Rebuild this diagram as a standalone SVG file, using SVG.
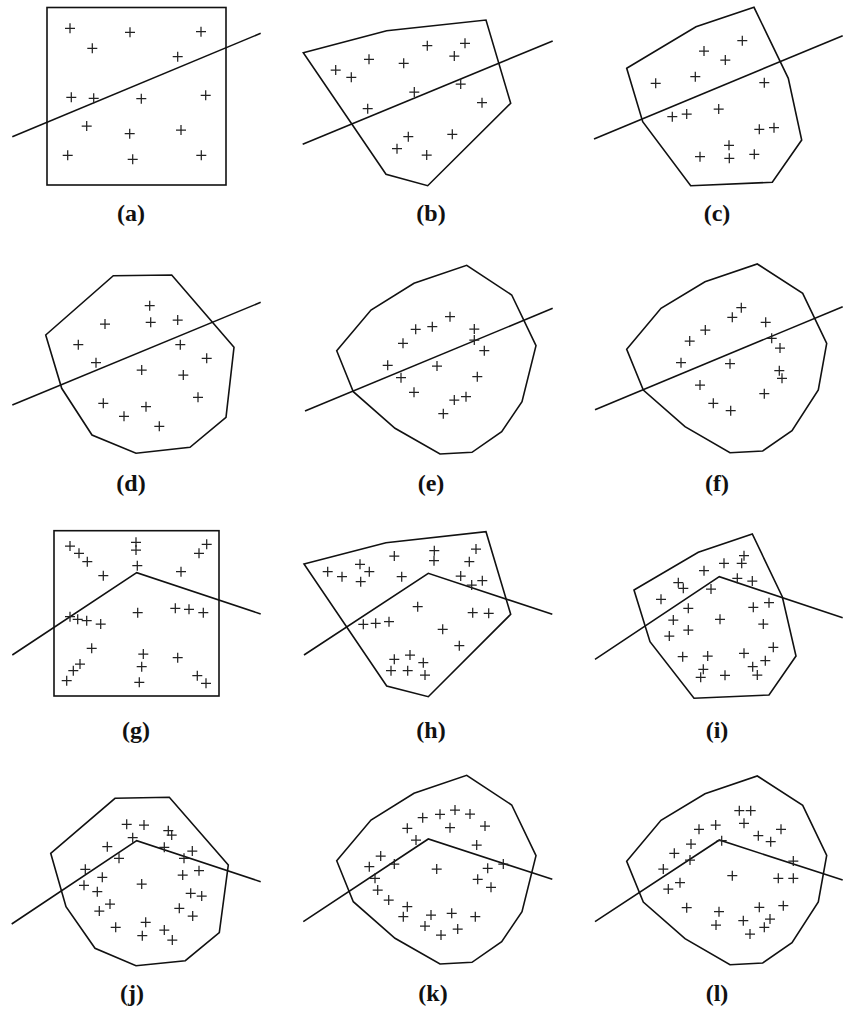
<svg xmlns="http://www.w3.org/2000/svg" xmlns:xlink="http://www.w3.org/1999/xlink" width="846" height="1011" viewBox="0 0 846 1011">
<style>
.s{fill:none;stroke:#111;stroke-width:1.6;stroke-linejoin:miter}
.l{fill:none;stroke:#111;stroke-width:1.6}
.lb{font-family:"Liberation Serif","Times New Roman",serif;font-weight:bold;font-size:24px;fill:#111;text-anchor:middle}
</style>
<defs>
<path id="p" d="M-5,0H5M0,-5V5" fill="none" stroke="#222" stroke-width="1.25"/>
</defs>
<rect width="846" height="1011" fill="#fff"/>

<g id="panel-a">
<rect class="s" x="47" y="7.5" width="179" height="177.5"/>
<line class="l" x1="12.3" y1="136.7" x2="260.7" y2="33.3"/>
<use href="#p" x="70" y="28.3"/><use href="#p" x="130" y="32.3"/><use href="#p" x="201" y="31.7"/><use href="#p" x="92.3" y="48.3"/><use href="#p" x="177.7" y="56.7"/><use href="#p" x="71.3" y="97.3"/><use href="#p" x="93.7" y="98.3"/><use href="#p" x="141.3" y="98.7"/><use href="#p" x="205.7" y="95.3"/><use href="#p" x="86.7" y="126"/><use href="#p" x="129.7" y="133.7"/><use href="#p" x="181" y="130"/><use href="#p" x="67.7" y="155.3"/><use href="#p" x="132.7" y="159.3"/><use href="#p" x="201.3" y="155.3"/>
<text class="lb" x="131" y="221">(a)</text>
</g>

<g id="panel-b">
<polygon class="s" points="303.3,52.7 386.7,30.7 486,20 510.7,103.3 427.7,185.7 386,174.3"/>
<line class="l" x1="302.7" y1="144.3" x2="552.7" y2="41"/>
<use href="#p" x="427.3" y="45.7"/><use href="#p" x="465" y="43.3"/><use href="#p" x="454.3" y="56"/><use href="#p" x="369" y="59.3"/><use href="#p" x="403.7" y="63.3"/><use href="#p" x="335.7" y="70"/><use href="#p" x="351.3" y="77.3"/><use href="#p" x="460.7" y="84"/><use href="#p" x="414.3" y="92"/><use href="#p" x="482" y="102.7"/><use href="#p" x="367.7" y="108.7"/><use href="#p" x="452.3" y="134.3"/><use href="#p" x="408.3" y="136.7"/><use href="#p" x="397" y="148.7"/><use href="#p" x="426.7" y="155"/>
<text class="lb" x="431" y="221">(b)</text>
</g>

<g id="panel-c">
<polygon class="s" points="626.7,68.3 696,26.7 754,7.3 788.3,78.3 801.7,140 772.3,182.3 690.7,185.7 642.7,121.7"/>
<line class="l" x1="594" y1="139" x2="842.7" y2="35.7"/>
<use href="#p" x="742.3" y="40.7"/><use href="#p" x="704" y="51"/><use href="#p" x="725.3" y="60"/><use href="#p" x="695.3" y="76.7"/><use href="#p" x="655.7" y="83.3"/><use href="#p" x="764.3" y="82.7"/><use href="#p" x="718.7" y="109"/><use href="#p" x="672.3" y="116.7"/><use href="#p" x="686.7" y="114"/><use href="#p" x="759.3" y="129.3"/><use href="#p" x="774" y="127.7"/><use href="#p" x="729" y="145.3"/><use href="#p" x="700" y="156.7"/><use href="#p" x="729.3" y="158.3"/><use href="#p" x="754.3" y="154.3"/>
<text class="lb" x="717" y="221">(c)</text>
</g>

<g id="panel-d">
<polygon class="s" points="45.7,335 113.3,275.7 171.7,275 234,347.3 226,417.3 190,447.3 136,453.3 92,435 61.7,388.3"/>
<line class="l" x1="12.3" y1="405" x2="260.7" y2="302.3"/>
<use href="#p" x="149.7" y="305.7"/><use href="#p" x="105" y="324"/><use href="#p" x="150.7" y="322.3"/><use href="#p" x="177.7" y="320"/><use href="#p" x="78.3" y="344.7"/><use href="#p" x="180.3" y="344.7"/><use href="#p" x="206.7" y="358.3"/><use href="#p" x="96" y="362.7"/><use href="#p" x="141.7" y="370"/><use href="#p" x="183.3" y="375"/><use href="#p" x="198" y="397.3"/><use href="#p" x="103.3" y="403.3"/><use href="#p" x="146" y="406.7"/><use href="#p" x="124" y="416.3"/><use href="#p" x="159.3" y="426.3"/>
<text class="lb" x="131" y="491">(d)</text>
</g>

<g id="panel-e">
<polygon class="s" points="336.7,350.7 371,310 414,283.3 466.7,265.3 511.7,295 536,345.7 522,401.7 501.7,431.7 472,452.3 440,454 395,428.3 353.3,391.7"/>
<line class="l" x1="305" y1="411" x2="552.7" y2="308.3"/>
<use href="#p" x="450" y="316.7"/><use href="#p" x="415.7" y="329.3"/><use href="#p" x="432.3" y="326.7"/><use href="#p" x="474.3" y="329"/><use href="#p" x="403" y="343.3"/><use href="#p" x="474.3" y="340"/><use href="#p" x="484.3" y="350.7"/><use href="#p" x="387.7" y="365.3"/><use href="#p" x="437" y="366"/><use href="#p" x="401" y="377.7"/><use href="#p" x="477.3" y="376.7"/><use href="#p" x="414" y="392.3"/><use href="#p" x="454.3" y="400"/><use href="#p" x="466" y="396.7"/><use href="#p" x="443.3" y="413.7"/>
<text class="lb" x="431" y="491">(e)</text>
</g>

<g id="panel-f">
<polygon class="s" points="626.7,349.3 661,308.3 705,281.7 757.3,264 802.7,293.3 826.7,343.3 818.3,390 792,430.7 762.7,451 730,452.7 685,426.7 643.3,390"/>
<line class="l" x1="595" y1="409.7" x2="842.7" y2="306.7"/>
<use href="#p" x="741.3" y="307.7"/><use href="#p" x="732.3" y="317.3"/><use href="#p" x="765.7" y="322.3"/><use href="#p" x="705.3" y="330"/><use href="#p" x="689.7" y="341"/><use href="#p" x="771.7" y="338.3"/><use href="#p" x="780" y="348"/><use href="#p" x="681" y="362.7"/><use href="#p" x="730" y="363.7"/><use href="#p" x="779.3" y="370.7"/><use href="#p" x="782" y="378.3"/><use href="#p" x="700" y="385"/><use href="#p" x="764.3" y="393.7"/><use href="#p" x="713.3" y="403.3"/><use href="#p" x="730.7" y="410.7"/>
<text class="lb" x="717" y="491">(f)</text>
</g>

<g id="panel-g">
<rect class="s" x="54" y="530.7" width="165" height="165.3"/>
<polyline class="l" points="12.3,655 136.7,572.7 260.7,614"/>
<use href="#p" x="70" y="546"/><use href="#p" x="79" y="553.3"/><use href="#p" x="87.3" y="561.7"/><use href="#p" x="136" y="542.3"/><use href="#p" x="136" y="550"/><use href="#p" x="206.7" y="544.3"/><use href="#p" x="199" y="553.3"/><use href="#p" x="137.3" y="565.7"/><use href="#p" x="103.3" y="575.7"/><use href="#p" x="181" y="571.7"/><use href="#p" x="70" y="616.7"/><use href="#p" x="77.7" y="619.3"/><use href="#p" x="86.7" y="620.7"/><use href="#p" x="100.7" y="624"/><use href="#p" x="137.7" y="612.7"/><use href="#p" x="175.3" y="608.3"/><use href="#p" x="189" y="609.3"/><use href="#p" x="203.3" y="612.7"/><use href="#p" x="91.7" y="648.3"/><use href="#p" x="143.3" y="654"/><use href="#p" x="177.7" y="657.7"/><use href="#p" x="80" y="664"/><use href="#p" x="73.3" y="670.7"/><use href="#p" x="141.7" y="666.7"/><use href="#p" x="66.7" y="680.7"/><use href="#p" x="139.3" y="682.3"/><use href="#p" x="197.3" y="675.7"/><use href="#p" x="206" y="683.3"/>
<text class="lb" x="136" y="738">(g)</text>
</g>

<g id="panel-h">
<polygon class="s" points="304,564 386,542.7 486,531.7 510.7,614.3 428.3,696.7 386.7,686"/>
<polyline class="l" points="304,655 428.3,573.3 552.3,614.3"/>
<use href="#p" x="476" y="549"/><use href="#p" x="394.3" y="556"/><use href="#p" x="434.3" y="550.7"/><use href="#p" x="434" y="560.7"/><use href="#p" x="469.3" y="561.7"/><use href="#p" x="360" y="564.3"/><use href="#p" x="327.7" y="571.7"/><use href="#p" x="342" y="576.7"/><use href="#p" x="369.3" y="571.7"/><use href="#p" x="360.7" y="581.7"/><use href="#p" x="401.7" y="576.7"/><use href="#p" x="460.7" y="576"/><use href="#p" x="471.7" y="585"/><use href="#p" x="482.3" y="580.7"/><use href="#p" x="417.7" y="606.7"/><use href="#p" x="472.7" y="612.7"/><use href="#p" x="488.7" y="613.3"/><use href="#p" x="363.3" y="624.3"/><use href="#p" x="375.7" y="623.3"/><use href="#p" x="389" y="621.7"/><use href="#p" x="442.7" y="629.3"/><use href="#p" x="459.3" y="645.7"/><use href="#p" x="394.3" y="659.3"/><use href="#p" x="410" y="655"/><use href="#p" x="423.3" y="662.7"/><use href="#p" x="391" y="670.7"/><use href="#p" x="407.7" y="670.7"/><use href="#p" x="425" y="675"/>
<text class="lb" x="431" y="738">(h)</text>
</g>

<g id="panel-i">
<polygon class="s" points="634,590 698.3,552.3 752.3,534 782.3,596.7 796,656 769,695 694,698.3 650,641.7"/>
<polyline class="l" points="595,659.3 719.3,576.7 842.7,617.7"/>
<use href="#p" x="744" y="555.7"/><use href="#p" x="741.7" y="563.3"/><use href="#p" x="724" y="563.3"/><use href="#p" x="704" y="570.7"/><use href="#p" x="737.3" y="578.3"/><use href="#p" x="752.3" y="581"/><use href="#p" x="678.3" y="582.7"/><use href="#p" x="683.3" y="588.3"/><use href="#p" x="711" y="589"/><use href="#p" x="661" y="599.3"/><use href="#p" x="769" y="602.7"/><use href="#p" x="753.3" y="607.3"/><use href="#p" x="688.3" y="608.3"/><use href="#p" x="673.3" y="620"/><use href="#p" x="720" y="619.3"/><use href="#p" x="763.3" y="624"/><use href="#p" x="688.3" y="630"/><use href="#p" x="669.3" y="636"/><use href="#p" x="773.3" y="647.3"/><use href="#p" x="744" y="653.3"/><use href="#p" x="682.7" y="656.7"/><use href="#p" x="707.7" y="656"/><use href="#p" x="765.3" y="660.7"/><use href="#p" x="752.7" y="666.7"/><use href="#p" x="703.3" y="669.3"/><use href="#p" x="700.7" y="677.3"/><use href="#p" x="725" y="675.3"/><use href="#p" x="757.3" y="675"/>
<text class="lb" x="717" y="738">(i)</text>
</g>

<g id="panel-j">
<polygon class="s" points="50.7,853.3 115,798.3 169.3,797.3 228.3,865 219.3,932.7 185.3,960.7 136,965.7 95,948.3 66,906.7"/>
<polyline class="l" points="11.7,924 136.7,840.7 260.7,881.7"/>
<use href="#p" x="126.7" y="824.3"/><use href="#p" x="144" y="825"/><use href="#p" x="168.3" y="830.7"/><use href="#p" x="171.7" y="835"/><use href="#p" x="132.7" y="837.7"/><use href="#p" x="164.3" y="847.3"/><use href="#p" x="107.3" y="846.7"/><use href="#p" x="192.3" y="851"/><use href="#p" x="184" y="858.3"/><use href="#p" x="119" y="858.3"/><use href="#p" x="85.3" y="869.3"/><use href="#p" x="199" y="870.7"/><use href="#p" x="182.7" y="875"/><use href="#p" x="102.3" y="877.3"/><use href="#p" x="141.7" y="884"/><use href="#p" x="84" y="885.3"/><use href="#p" x="97.3" y="891.7"/><use href="#p" x="190.7" y="893.3"/><use href="#p" x="201.7" y="896"/><use href="#p" x="110" y="904"/><use href="#p" x="99.3" y="911"/><use href="#p" x="179.3" y="908.3"/><use href="#p" x="192.7" y="916"/><use href="#p" x="115.7" y="927.3"/><use href="#p" x="145.7" y="922.3"/><use href="#p" x="164.3" y="930"/><use href="#p" x="142.3" y="935.7"/><use href="#p" x="172.3" y="940"/>
<text class="lb" x="132" y="1001">(j)</text>
</g>

<g id="panel-k">
<polygon class="s" points="336.7,860.7 371,820 414,793.3 466.7,775.3 511.7,805 536,855.7 522,911.7 501.7,941.7 472,962.3 440,964 395,938.3 353.3,901.7"/>
<polyline class="l" points="303.3,921.7 428.3,839 552.3,879.3"/>
<use href="#p" x="455" y="810"/><use href="#p" x="422.7" y="817.7"/><use href="#p" x="440" y="814.3"/><use href="#p" x="470" y="814"/><use href="#p" x="485" y="826"/><use href="#p" x="407.3" y="828.3"/><use href="#p" x="450" y="827.7"/><use href="#p" x="416" y="840"/><use href="#p" x="476.7" y="845"/><use href="#p" x="380.7" y="856"/><use href="#p" x="369.3" y="866.7"/><use href="#p" x="394.3" y="864"/><use href="#p" x="436.7" y="869"/><use href="#p" x="487.7" y="868.3"/><use href="#p" x="503.3" y="864"/><use href="#p" x="375" y="878.3"/><use href="#p" x="477.7" y="879.3"/><use href="#p" x="491" y="887.3"/><use href="#p" x="377.7" y="890"/><use href="#p" x="388.7" y="900"/><use href="#p" x="407.3" y="906.7"/><use href="#p" x="403.3" y="916.7"/><use href="#p" x="431" y="915"/><use href="#p" x="451.7" y="913.3"/><use href="#p" x="475.3" y="916.7"/><use href="#p" x="425" y="926"/><use href="#p" x="457.7" y="929"/><use href="#p" x="441" y="935"/>
<text class="lb" x="433" y="1001">(k)</text>
</g>

<g id="panel-l">
<polygon class="s" points="626.7,861.3 661,820.3 705,793.7 757.3,776 802.7,805.3 826.7,855.3 818.3,902 792,942.7 762.7,963 730,964.7 685,938.7 643.3,902"/>
<polyline class="l" points="595,921.7 719.3,840 842.7,880"/>
<use href="#p" x="739.3" y="810.7"/><use href="#p" x="750.7" y="810.7"/><use href="#p" x="715.7" y="825"/><use href="#p" x="744" y="823.3"/><use href="#p" x="699" y="829.3"/><use href="#p" x="781" y="829.3"/><use href="#p" x="758.3" y="835.7"/><use href="#p" x="770.7" y="841.7"/><use href="#p" x="721.7" y="840.7"/><use href="#p" x="691" y="844"/><use href="#p" x="674.3" y="853.3"/><use href="#p" x="690" y="860"/><use href="#p" x="793.3" y="861"/><use href="#p" x="663.3" y="869"/><use href="#p" x="732.3" y="875.7"/><use href="#p" x="778.3" y="878.3"/><use href="#p" x="793.3" y="878.3"/><use href="#p" x="680" y="882.7"/><use href="#p" x="668.3" y="889"/><use href="#p" x="686.7" y="907.7"/><use href="#p" x="759.3" y="907.3"/><use href="#p" x="783.3" y="905.7"/><use href="#p" x="719" y="911.7"/><use href="#p" x="743.3" y="920.7"/><use href="#p" x="770" y="919"/><use href="#p" x="716" y="925"/><use href="#p" x="764.3" y="927.3"/><use href="#p" x="750" y="934"/>
<text class="lb" x="717" y="1001">(l)</text>
</g>
</svg>
